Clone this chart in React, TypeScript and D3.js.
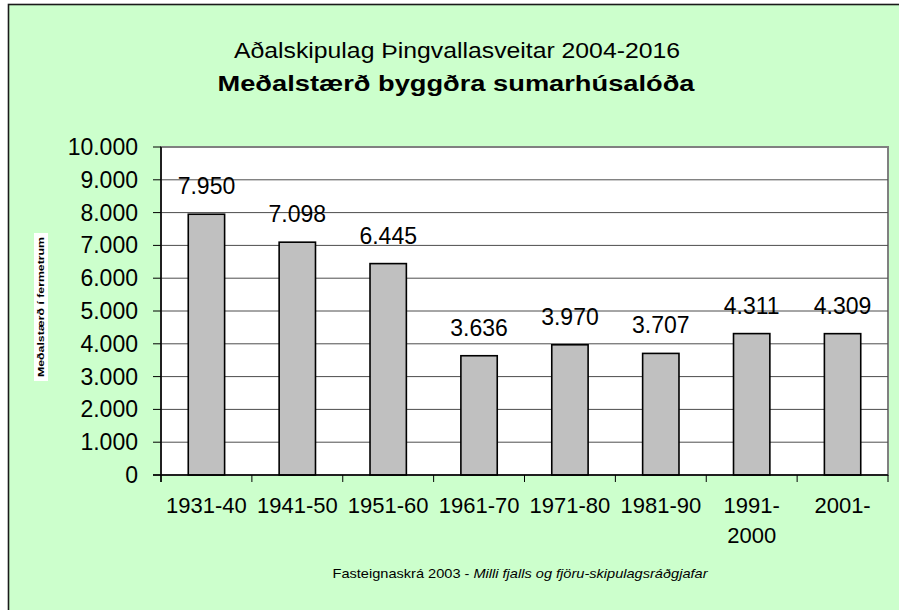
import React from "react";
import * as d3 from "d3";

const categories: string[][] = [
  ["1931-40"],
  ["1941-50"],
  ["1951-60"],
  ["1961-70"],
  ["1971-80"],
  ["1981-90"],
  ["1991-", "2000"],
  ["2001-"],
];
const values: number[] = [7950, 7098, 6445, 3636, 3970, 3707, 4311, 4309];
const yTicks: number[] = [0, 1000, 2000, 3000, 4000, 5000, 6000, 7000, 8000, 9000, 10000];
const titleLine1 = "Aðalskipulag Þingvallasveitar 2004-2016";
const titleLine2 = "Meðalstærð byggðra sumarhúsalóða";
const yAxisTitle = "Meðalstærð í fermetrum";
const sourceNormal = "Fasteignaskrá 2003 - ";
const sourceItalic = "Milli fjalls og fjöru-skipulagsráðgjafar";

const fmt = (v: number) => {
  const s = d3.format(",")(v);
  return s.replace(/,/g, ".");
};

export default function App() {
  const W = 899;
  const H = 610;
  const left = 161;
  const right = 888;
  const top = 147;
  const bottom = 475;
  const font = "'Liberation Sans', Arial, sans-serif";

  const keys = categories.map((c) => c.join(""));
  const x = d3.scaleBand<string>().domain(keys).range([left, right]).paddingInner(0.6).paddingOuter(0.3);
  const y = d3.scaleLinear().domain([0, 10000]).range([bottom, top]);
  const step = (right - left) / keys.length;

  return (
    <svg
      width={W}
      height={H}
      style={{ position: "absolute", left: 0, top: 0, display: "block" }}
      fontFamily={font}
    >
      <rect x={8.5} y={4.5} width={W + 10} height={H + 10} fill="#CCFFCC" stroke="#1a1a1a" strokeWidth={1.6} />
      {/* plot area */}
      <rect x={left} y={top} width={right - left} height={bottom - top} fill="#ffffff" stroke="#808080" strokeWidth={2} />
      {yTicks.slice(1, -1).map((t) => (
        <line key={"g" + t} x1={left} x2={right} y1={y(t)} y2={y(t)} stroke="#4d4d4d" strokeWidth={1} />
      ))}
      {/* bars */}
      {values.map((v, i) => (
        <rect
          key={"b" + i}
          x={x(keys[i])!}
          y={y(v)}
          width={x.bandwidth()}
          height={bottom - y(v)}
          fill="#C0C0C0"
          stroke="#000"
          strokeWidth={1.6}
        />
      ))}
      {/* value labels */}
      {values.map((v, i) => (
        <text
          key={"v" + i}
          x={x(keys[i])! + x.bandwidth() / 2}
          y={y(v) - 20}
          textAnchor="middle"
          fontSize={23}
          fill="#000"
        >
          {fmt(v)}
        </text>
      ))}
      {/* axes */}
      <line x1={left} x2={left} y1={top} y2={bottom + 7} stroke="#000" strokeWidth={1.5} />
      <line x1={left - 8} x2={right} y1={bottom} y2={bottom} stroke="#000" strokeWidth={1.5} />
      {yTicks.map((t) => (
        <g key={"t" + t}>
          <line x1={left - 8} x2={left} y1={y(t)} y2={y(t)} stroke="#000" strokeWidth={1} />
          <text x={138} y={y(t) + 8} textAnchor="end" fontSize={23} fill="#000">
            {fmt(t)}
          </text>
        </g>
      ))}
      {d3.range(keys.length + 1).map((i) => (
        <line
          key={"xt" + i}
          x1={left + i * step}
          x2={left + i * step}
          y1={bottom}
          y2={bottom + 7}
          stroke="#000"
          strokeWidth={1}
        />
      ))}
      {categories.map((lines, i) => (
        <text
          key={"c" + i}
          x={x(keys[i])! + x.bandwidth() / 2}
          y={513}
          textAnchor="middle"
          fontSize={22}
          fill="#000"
        >
          {lines.map((l, j) => (
            <tspan key={j} x={x(keys[i])! + x.bandwidth() / 2} dy={j === 0 ? 0 : 30}>
              {l}
            </tspan>
          ))}
        </text>
      ))}
      {/* titles */}
      <text x={457} y={58} textAnchor="middle" fontSize={22} fill="#000" textLength={446} lengthAdjust="spacingAndGlyphs">
        {titleLine1}
      </text>
      <text x={456} y={91} textAnchor="middle" fontSize={22} fontWeight="bold" fill="#000" textLength={477} lengthAdjust="spacingAndGlyphs">
        {titleLine2}
      </text>
      {/* y axis title */}
      <rect x={34} y={233} width={14} height={148} fill="#ffffff" />
      <text
        transform={`translate(44,${307}) rotate(-90)`}
        textAnchor="middle"
        fontSize={9.5}
        fontWeight="bold"
        fill="#000"
        textLength={140}
        lengthAdjust="spacingAndGlyphs"
      >
        {yAxisTitle}
      </text>
      {/* source */}
      <text x={520} y={578} textAnchor="middle" fontSize={13} fill="#000" textLength={375} lengthAdjust="spacingAndGlyphs">
        <tspan>{sourceNormal}</tspan>
        <tspan fontStyle="italic">{sourceItalic}</tspan>
      </text>
    </svg>
  );
}
